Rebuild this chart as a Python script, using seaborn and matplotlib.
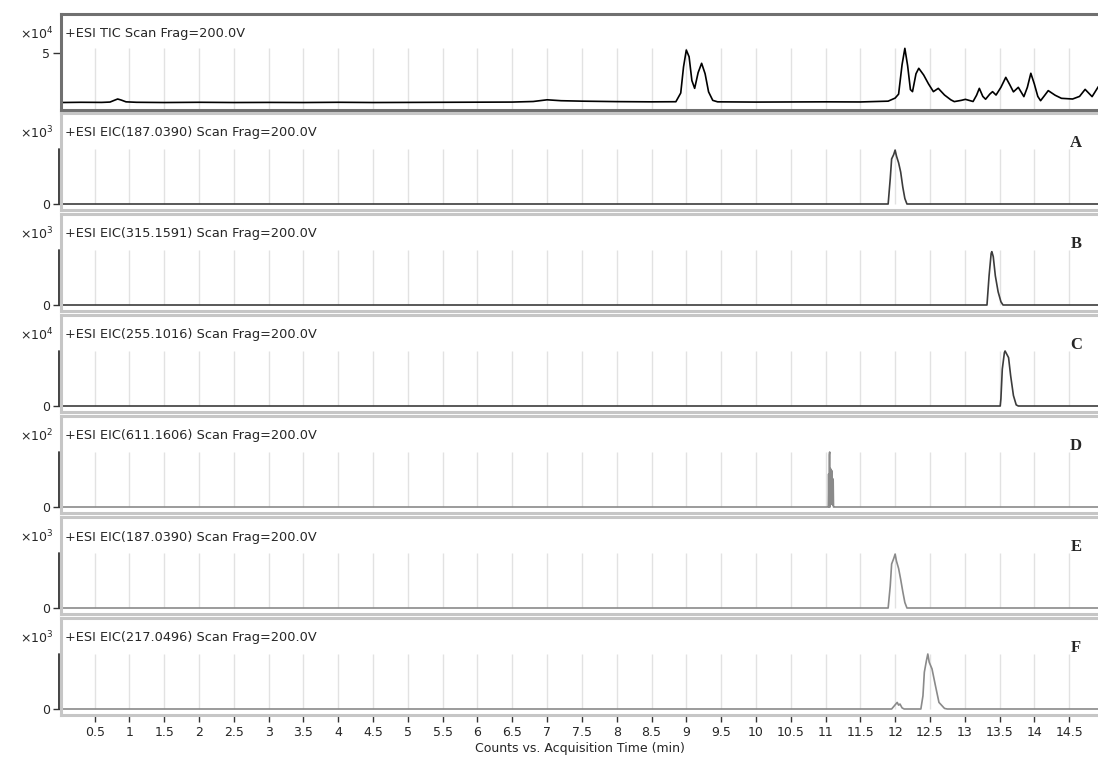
import numpy as np
import pandas as pd
import seaborn as sns
import matplotlib.pyplot as plt
from matplotlib.transforms import blended_transform_factory

# trace data (time in min, intensity)
# TIC intensity in units of 1e4, EIC traces normalised to their own scale top

tic_t = [0.02, 0.3, 0.6, 0.72, 0.78, 0.83, 0.88, 0.95, 1.1, 1.5, 2.0, 2.5, 3.0, 3.5, 4.0,
         4.5, 5.0, 5.5, 6.0, 6.5, 6.8, 7.0, 7.2, 7.5, 8.0, 8.5, 8.85, 8.92, 8.96, 9.0,
         9.04, 9.08, 9.12, 9.17, 9.22, 9.27, 9.32, 9.38, 9.45, 10.0, 10.5, 11.0, 11.5,
         11.9, 12.0, 12.05, 12.1, 12.14, 12.18, 12.22, 12.25, 12.3, 12.34, 12.41, 12.48,
         12.55, 12.62, 12.71, 12.8, 12.85, 12.95, 13.01, 13.12, 13.17, 13.21, 13.26, 13.3,
         13.36, 13.4, 13.45, 13.52, 13.59, 13.65, 13.7, 13.77, 13.85, 13.9, 13.95, 14.0,
         14.05, 14.09, 14.15, 14.2, 14.3, 14.39, 14.55, 14.65, 14.73, 14.78, 14.83, 14.92]
tic_v = [0.66, 0.68, 0.67, 0.70, 0.85, 0.97, 0.88, 0.72, 0.68, 0.66, 0.68, 0.66, 0.67, 0.66, 0.68,
         0.66, 0.67, 0.68, 0.69, 0.70, 0.75, 0.90, 0.82, 0.78, 0.74, 0.72, 0.73, 1.5, 3.8, 5.29,
         4.7, 2.6, 1.91, 3.3, 4.12, 3.2, 1.6, 0.85, 0.72, 0.70, 0.71, 0.72, 0.71,
         0.78, 1.05, 1.4, 4.0, 5.44, 3.9, 1.8, 1.62, 3.2, 3.68, 3.09, 2.3,
         1.62, 1.91, 1.32, 0.9, 0.74, 0.85, 0.94, 0.75, 1.3, 1.91, 1.2, 0.95,
         1.4, 1.62, 1.32, 2.0, 2.88, 2.2, 1.6, 2.0, 1.18, 2.0, 3.24, 2.3,
         1.2, 0.82, 1.3, 1.71, 1.3, 1.03, 0.97, 1.2, 1.82, 1.5, 1.18, 2.06]

a_t = [0.02, 11.9, 11.93, 11.95, 11.98, 12.0, 12.02, 12.05, 12.08, 12.11, 12.14, 12.17, 14.92]
a_v = [0, 0, 0.46, 0.82, 0.90, 0.98, 0.87, 0.75, 0.58, 0.31, 0.10, 0, 0]

b_t = [0.02, 13.32, 13.35, 13.38, 13.39, 13.41, 13.44, 13.48, 13.52, 13.55, 14.92]
b_v = [0, 0, 0.53, 0.94, 0.97, 0.88, 0.53, 0.24, 0.06, 0, 0]

c_t = [0.02, 13.51, 13.52, 13.54, 13.57, 13.58, 13.63, 13.66, 13.70, 13.74, 13.77, 14.92]
c_v = [0, 0, 0.13, 0.67, 0.97, 1.0, 0.88, 0.55, 0.19, 0.02, 0, 0]

d_t = [0.02, 11.03, 11.04, 11.045, 11.05, 11.055, 11.06, 11.065, 11.07, 11.075, 11.08,
       11.085, 11.09, 11.095, 11.1, 11.105, 11.11, 11.115, 11.12, 14.92]
d_v = [0, 0, 0, 0.6, 0, 0.95, 1.0, 0, 0.7, 0.05, 0.68,
       0.05, 0.66, 0.05, 0.52, 0.03, 0.5, 0, 0, 0]

e_t = [0.02, 11.9, 11.93, 11.95, 11.98, 12.0, 12.02, 12.05, 12.08, 12.11, 12.14, 12.17, 14.92]
e_v = [0, 0, 0.40, 0.80, 0.90, 0.98, 0.85, 0.72, 0.52, 0.30, 0.10, 0, 0]

f_t = [0.02, 11.95, 11.99, 12.03, 12.05, 12.07, 12.1, 12.13, 12.37, 12.4, 12.42, 12.45,
       12.47, 12.49, 12.53, 12.58, 12.63, 12.71, 12.75, 14.92]
f_v = [0, 0, 0.06, 0.12, 0.07, 0.09, 0.02, 0, 0, 0.24, 0.67, 0.88,
       1.0, 0.85, 0.73, 0.42, 0.12, 0.01, 0, 0]

eic_titles = ["+ESI EIC(187.0390) Scan Frag=200.0V",
              "+ESI EIC(315.1591) Scan Frag=200.0V",
              "+ESI EIC(255.1016) Scan Frag=200.0V",
              "+ESI EIC(611.1606) Scan Frag=200.0V",
              "+ESI EIC(187.0390) Scan Frag=200.0V",
              "+ESI EIC(217.0496) Scan Frag=200.0V"]
eic_exp = ["3", "3", "4", "2", "3", "3"]
eic_letters = ["A", "B", "C", "D", "E", "F"]
eic_data = [(a_t, a_v), (b_t, b_v), (c_t, c_v), (d_t, d_v), (e_t, e_v), (f_t, f_v)]
eic_colors = ["#3c3c3c", "#3c3c3c", "#3c3c3c", "#8a8a8a", "#8a8a8a", "#8a8a8a"]

xticks = [0.5, 1, 1.5, 2, 2.5, 3, 3.5, 4, 4.5, 5, 5.5, 6, 6.5, 7, 7.5, 8, 8.5, 9, 9.5,
          10, 10.5, 11, 11.5, 12, 12.5, 13, 13.5, 14, 14.5]
xtick_labels = ["0.5", "1", "1.5", "2", "2.5", "3", "3.5", "4", "4.5", "5", "5.5", "6",
                "6.5", "7", "7.5", "8", "8.5", "9", "9.5", "10", "10.5", "11", "11.5",
                "12", "12.5", "13", "13.5", "14", "14.5"]

sns.set_style("white")
plt.rcParams['font.family'] = ['DejaVu Sans']

W, H = 1098, 762
fig = plt.figure(figsize=(W / 100, H / 100), dpi=100)
XL, XR = 61, 1098
XMIN, XMAX = 0.016, 14.915
FS = 9.3  # panel text size


def px_axes(top, bottom):
    return fig.add_axes([XL / W, 1 - bottom / H, (XR - XL) / W, (bottom - top) / H])


def exponent(top_px, exp):
    fig.text(53 / W, 1 - (top_px + 20) / H, r"$\times$10$^{%s}$" % exp,
             ha="right", va="center", fontsize=9)


# --- TIC panel ---
ax = px_axes(14, 110)
ax.set_xlim(XMIN, XMAX)
ax.set_ylim(0, 8.47)
ax.vlines(xticks, 0, 5.44, color="#e2e2e2", lw=1, zorder=0)
sns.lineplot(x=tic_t, y=tic_v, ax=ax, color="black", lw=1.2, estimator=None, sort=False)
for s in ["top", "bottom", "left"]:
    ax.spines[s].set_color("#707070")
    ax.spines[s].set_linewidth(2.2)
ax.spines["right"].set_visible(False)
ax.set_yticks([5])
ax.set_yticklabels(["5"], fontsize=9)
ax.set_xticks([])
ax.tick_params(axis="y", direction="out", length=6, width=1, color="#333333", pad=2, left=True)
ax.text(0.004, 1 - 19 / 96, "+ESI TIC Scan Frag=200.0V", transform=ax.transAxes,
        fontsize=FS, va="center", ha="left")
exponent(14, "4")

# --- EIC panels ---
for i in range(6):
    y0 = 204 + 101 * i
    top, bottom = y0 - 91, y0 + 6
    ax = px_axes(top, bottom)
    ax.set_xlim(XMIN, XMAX)
    ax.set_ylim(-6 / 55, 91 / 55)
    ax.vlines(xticks, 0, 1, color="#e2e2e2", lw=1, zorder=0)
    t, v = eic_data[i]
    sns.lineplot(x=t, y=v, ax=ax, color=eic_colors[i], lw=1.2, estimator=None, sort=False)
    for s in ["top", "bottom", "left"]:
        ax.spines[s].set_color("#c6c6c6")
        ax.spines[s].set_linewidth(2.2)
    ax.spines["right"].set_visible(False)
    # dark y axis bar from 0 up to the scale top
    tr = blended_transform_factory(ax.transAxes, ax.transData)
    ax.plot([-2.5 / 1037, -2.5 / 1037], [0, 1], transform=tr, color="#333333", lw=1.3,
            clip_on=False)
    ax.set_yticks([0])
    ax.set_yticklabels(["0"], fontsize=9)
    ax.tick_params(axis="y", direction="out", length=6, width=1, color="#333333", pad=2, left=True)
    ax.text(0.004, 1 - 20 / 97, eic_titles[i], transform=ax.transAxes,
            fontsize=FS, va="center", ha="left")
    ax.text(14.6, 1 - 30 / 97, eic_letters[i],
            transform=blended_transform_factory(ax.transData, ax.transAxes),
            fontsize=12, fontweight="bold", family="Liberation Serif", ha="center", va="center")
    exponent(top, eic_exp[i])
    if i < 5:
        ax.set_xticks([])
    else:
        ax.set_xticks(xticks)
        ax.set_xticklabels(xtick_labels, fontsize=9)
        ax.tick_params(axis="x", direction="out", length=5, width=1, color="#333333",
                       pad=3, bottom=True)
        ax.set_xlabel("Counts vs. Acquisition Time (min)", fontsize=9, labelpad=2)
    ax.set_ylabel("")

fig.savefig("out.png", dpi=100)
